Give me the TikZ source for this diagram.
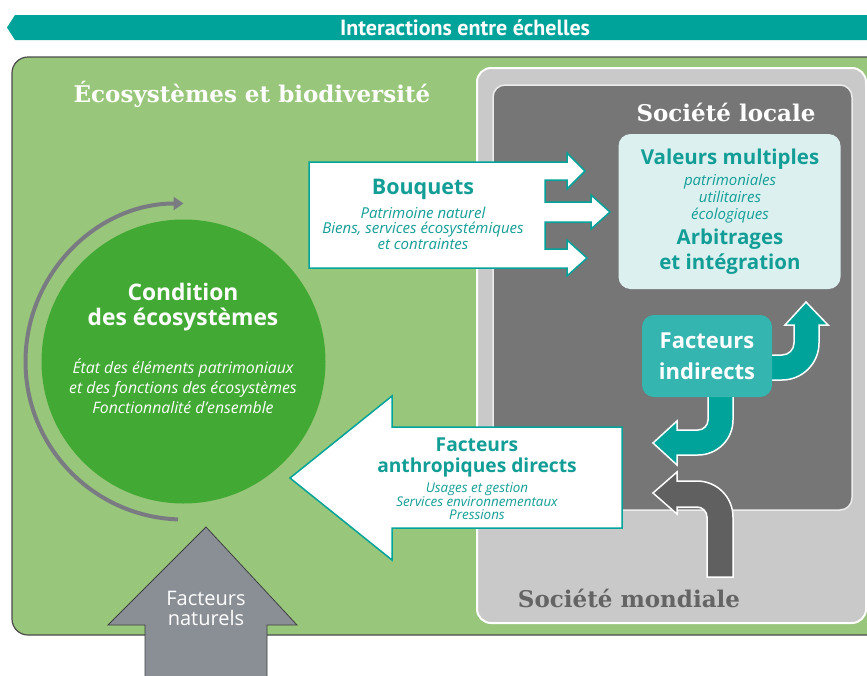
\documentclass[tikz,border=0pt]{standalone}
\usepackage{fontspec}
\setmainfont{Open Sans}
\newfontfamily\bandfont{PT Sans}
\newfontfamily\slabfont{DejaVu Serif}
\usetikzlibrary{positioning,arrows.meta}

\definecolor{bggreen}{RGB}{152,198,122}
\definecolor{circgreen}{RGB}{66,170,52}
\definecolor{bandteal}{RGB}{0,163,154}
\definecolor{txtteal}{RGB}{18,158,150}
\definecolor{paleblue}{RGB}{221,240,240}
\definecolor{boxteal}{RGB}{52,181,175}
\definecolor{localgray}{RGB}{118,118,118}
\definecolor{worldgray}{RGB}{201,201,201}
\definecolor{arrowgray}{RGB}{96,96,96}
\definecolor{arcgray}{RGB}{122,122,130}
\definecolor{natgray}{RGB}{138,143,150}
\definecolor{mondtext}{RGB}{100,100,100}

\begin{document}
\begin{tikzpicture}[x=1pt, y=-1pt,
    every node/.style={inner sep=0pt},
    slab/.style={font=\slabfont\bfseries\fontsize{23}{26}\selectfont},
    bighead/.style={font=\bfseries\fontsize{21.5}{25}\selectfont, text=txtteal, align=center},
    smallit/.style={font=\itshape\fontsize{15}{15.5}\selectfont, text=txtteal, align=center},
    whitehead/.style={font=\bfseries\fontsize{22.8}{25}\selectfont, text=white, align=center},
    whiteit/.style={font=\itshape\fontsize{15.8}{20}\selectfont, text=white, align=center},
    blockarrow/.style={draw=white, line width=1.5pt, line join=miter}]
        \clip (0,0) rectangle (867,675);
        \fill[white] (0,0) rectangle (867,675);

        % bandeau du haut
        \fill[bandteal] (880,15) -- (15,15) -- (7,27.5) -- (15,40) -- (880,40) -- cycle;
        \node[font=\bandfont\bfseries\fontsize{22}{24}\selectfont, text=white] (inter) at (465,27.5) {Interactions entre échelles};

        % cadres
        \draw[fill=bggreen, draw=black!70, line width=1.2pt, rounded corners=16pt] (12,57) rectangle (920,635);
        \draw[fill=worldgray, draw=white, line width=2pt, rounded corners=14pt] (477,68) rectangle (866,623);
        \draw[fill=localgray, draw=white!85!gray, line width=1.5pt, rounded corners=12pt] (493,85) rectangle (852,510);

        \node[slab, text=white] (eco) at (252,94) {Écosystèmes et biodiversité};
        \node[slab, text=white] (local) at (726,112) {Société locale};
        \node[slab, text=mondtext] (monde) at (629,598) {Société mondiale};

        % condition des ecosystemes
        \node[circle, fill=circgreen, minimum size=284pt] (cond) at (183.5,361.5) {};
        \draw[arcgray, line width=4pt, -{Triangle[length=10pt,width=13pt]}]
            ([shift={(92:158)}]cond.center) arc[start angle=92, end angle=270, radius=158];
        \node[whitehead] (condtitle) at (183,307) {Condition\\des écosystèmes};
        \node[whiteit] (condtext) at (183,386) {État des éléments patrimoniaux\\et des fonctions des écosystèmes\\Fonctionnalité d’ensemble};

        % bouquets
        \draw[fill=white, draw=bandteal, line width=1.5pt, line join=miter]
            (309,162) -- (567,162) -- (567,153) -- (585,171) -- (567,189) -- (567,180) -- (545,180)
            -- (545,202) -- (591,202) -- (591,195) -- (610,212) -- (591,229) -- (591,222) -- (545,222)
            -- (545,249) -- (567,249) -- (567,240) -- (587,258) -- (567,276) -- (567,268) -- (309,268) -- cycle;
        \node[bighead] (bq) at (423,189) {Bouquets};
        \node[smallit] (bqtext) at (423,228) {Patrimoine naturel\\Biens, services écosystémiques\\et contraintes};

        % valeurs multiples
        \node[fill=paleblue, rounded corners=12pt, minimum width=222pt, minimum height=155pt] (val) at (729.5,211.5) {};
        \node[bighead, font=\bfseries\fontsize{20.5}{25}\selectfont] (valtitle) at (730,159) {Valeurs multiples};
        \node[smallit, font=\itshape\fontsize{15}{17}\selectfont] (valtext) at (730,199) {patrimoniales\\utilitaires\\écologiques};
        \node[bighead, font=\bfseries\fontsize{20.5}{25}\selectfont] (arb) at (730,252) {Arbitrages\\et intégration};

        % facteurs indirects
        \draw[blockarrow, fill=bandteal] (765,355) -- (794-12,355) arc[start angle=90, end angle=0, radius=12]
            -- (794,325) -- (785,325) -- (806,302) -- (828,325) -- (819,325) -- (819,343)
            arc[start angle=0, end angle=90, radius=37] -- (765,380) -- cycle;
        \draw[blockarrow, fill=bandteal] (708,390) -- (708,420) arc[start angle=0, end angle=90, radius=10]
            -- (677,430) -- (677,421) -- (653,443) -- (677,465) -- (677,455) -- (698,455)
            arc[start angle=90, end angle=0, radius=35] -- (733,390) -- cycle;
        \node[fill=boxteal, rounded corners=12pt, minimum width=130pt, minimum height=82pt,
            font=\bfseries\fontsize{22}{31}\selectfont, text=white, align=center] (indir) at (707,356) {Facteurs\\indirects};

        % facteurs venant de la societe mondiale
        \draw[blockarrow, fill=arrowgray] (707,577) -- (707,517) arc[start angle=0, end angle=-90, radius=10]
            -- (677,507) -- (677,514) -- (653,493) -- (677,472) -- (677,481) -- (697,481)
            arc[start angle=-90, end angle=0, radius=36] -- (733,577) -- cycle;

        % facteurs anthropiques directs
        \draw[fill=white, draw=bandteal, line width=1.5pt, line join=miter]
            (622,427) -- (392,427) -- (392,396) -- (290,478) -- (392,560) -- (392,528) -- (622,528) -- cycle;
        \node[bighead, font=\bfseries\fontsize{19.2}{21}\selectfont] (anthro) at (477,457) {Facteurs\\anthropiques directs};
        \node[smallit, font=\itshape\fontsize{13.4}{13}\selectfont] (anthrotext) at (477,501) {Usages et gestion\\Services environnementaux\\Pressions};

        % facteurs naturels
        \draw[fill=natgray, draw=black!75, line width=0.8pt, line join=miter]
            (145,690) -- (145,625) -- (108,625) -- (206,527) -- (297,625) -- (267,625) -- (267,690) -- cycle;
        \node[font=\fontsize{20}{20}\selectfont, text=white, align=center] (nat) at (206,608) {Facteurs\\naturels};
\end{tikzpicture}
\end{document}
